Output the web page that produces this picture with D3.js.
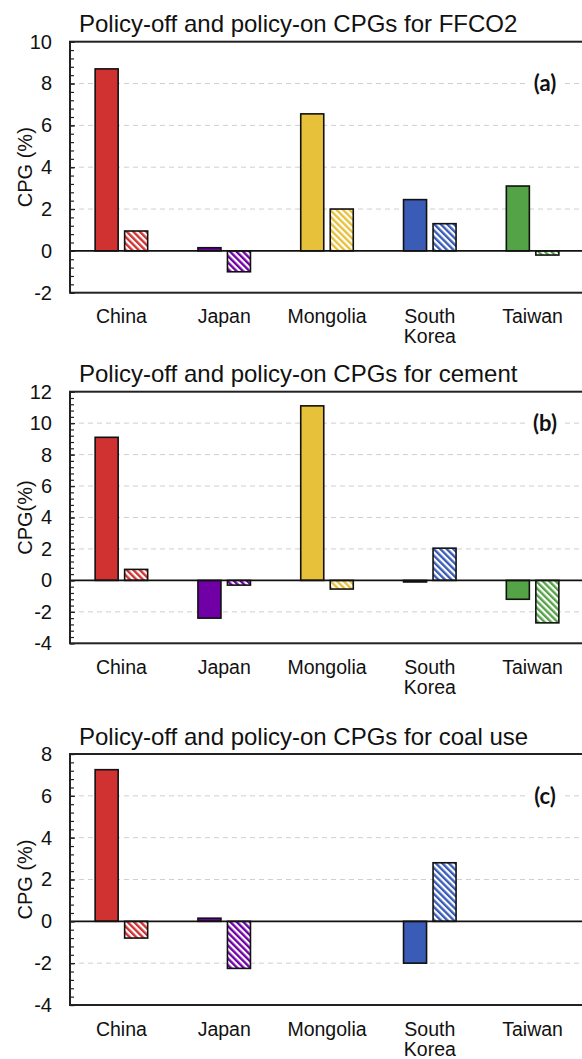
<!DOCTYPE html>
<html>
<head>
<meta charset="utf-8">
<script src="https://cdn.jsdelivr.net/npm/d3@7"></script>
<style>
  body { margin: 0; background: #fff; }
  svg text { font-family: "Liberation Sans", Arial, Helvetica, sans-serif; fill: #111; }
</style>
</head>
<body>
<svg id="chart" width="582" height="1059"></svg>
<script>
// ---- data ----
const categories = ["China", "Japan", "Mongolia", "South Korea", "Taiwan"];
const seriesKeys = ["off", "on"];

const ffco2Off  = [8.7, 0.15, 6.55, 2.45, 3.1];
const ffco2On   = [0.95, -1.0, 2.0, 1.3, -0.2];
const cementOff = [9.1, -2.4, 11.1, -0.1, -1.2];
const cementOn  = [0.7, -0.3, -0.55, 2.05, -2.7];
const coalOff   = [7.25, 0.15, null, -2.0, null];
const coalOn    = [-0.8, -2.25, null, 2.8, null];

const panelTitles = [
  "Policy-off and policy-on CPGs for FFCO2",
  "Policy-off and policy-on CPGs for cement",
  "Policy-off and policy-on CPGs for coal use"
];
const panelLetters = ["(a)", "(b)", "(c)"];
const yAxisTitles = ["CPG (%)", "CPG(%)", "CPG (%)"];

const ffco2Ticks  = [-2, 0, 2, 4, 6, 8, 10];
const cementTicks = [-4, -2, 0, 2, 4, 6, 8, 10, 12];
const coalTicks   = [-4, -2, 0, 2, 4, 6, 8];

// ---- styles ----
const countryColors = ["#d03131", "#7000a6", "#e8c13b", "#3a5cb6", "#54a346"];

// ---- layout of the three stacked panels ----
const frameLeft = 70, frameRight = 584;
const layout = [
  { top: 41.7,  bottom: 292.7, titleY: 32.3,  letterAt: 8,  minor: 0.4 },
  { top: 391.7, bottom: 643.3, titleY: 382.3, letterAt: 10, minor: 0.4 },
  { top: 754,   bottom: 1005,  titleY: 745,   letterAt: 6,  minor: 0.4 }
];

const panelData = [
  { off: ffco2Off,  on: ffco2On,  ticks: ffco2Ticks },
  { off: cementOff, on: cementOn, ticks: cementTicks },
  { off: coalOff,   on: coalOn,   ticks: coalTicks }
];

const svg = d3.select("#chart");
svg.append("rect").attr("width", 582).attr("height", 1059).attr("fill", "#fff");

// hatch fills, one per country colour ("\\" stripes on white)
const defs = svg.append("defs");
const hatchSize = 4.6;
countryColors.forEach((c, i) => {
  const p = defs.append("pattern")
    .attr("id", "hatch" + i)
    .attr("patternUnits", "userSpaceOnUse")
    .attr("width", hatchSize).attr("height", hatchSize)
    .attr("patternTransform", "rotate(-45)");
  p.append("rect").attr("width", hatchSize).attr("height", hatchSize).attr("fill", "#fff");
  p.append("line").attr("x1", 1.2).attr("y1", 0).attr("x2", 1.2).attr("y2", hatchSize)
    .attr("stroke", c).attr("stroke-width", 2.4);
});

const x0 = d3.scaleBand()
  .domain(categories)
  .range([frameLeft, frameRight])
  .paddingInner(0.489)
  .paddingOuter(0.2445);

const x1 = d3.scaleBand()
  .domain(seriesKeys)
  .range([0, x0.bandwidth()])
  .paddingInner(0.22);

panelData.forEach((pd, k) => {
  const L = layout[k];
  const ticks = pd.ticks;
  const y = d3.scaleLinear()
    .domain([d3.min(ticks), d3.max(ticks)])
    .range([L.bottom, L.top]);

  const g = svg.append("g");

  // title
  g.append("text")
    .attr("x", 79).attr("y", L.titleY)
    .style("font-size", "24px")
    .text(panelTitles[k]);

  // dashed gridlines (not at zero or frame edges)
  g.append("g").selectAll("line")
    .data(ticks.filter(t => t !== 0 && t !== d3.min(ticks) && t !== d3.max(ticks)))
    .join("line")
    .attr("x1", frameLeft).attr("x2", frameRight)
    .attr("y1", d => y(d)).attr("y2", d => y(d))
    .attr("stroke", "#cfcfcf").attr("stroke-width", 1)
    .attr("stroke-dasharray", "5,4");

  // panel letter with white backing
  const ly = y(L.letterAt);
  g.append("rect")
    .attr("x", 527).attr("y", ly - 12).attr("width", 36).attr("height", 24)
    .attr("fill", "#fff");
  g.append("text")
    .attr("x", 545).attr("y", ly).attr("dy", "0.36em")
    .attr("text-anchor", "middle")
    .style("font-family", "Lato, 'Open Sans', sans-serif")
    .style("font-weight", "bold")
    .style("font-size", "22px")
    .text(panelLetters[k]);

  // bars
  const rows = categories.map((c, i) => ({ cat: c, i, off: pd.off[i], on: pd.on[i] }));
  const grp = g.append("g").selectAll("g")
    .data(rows).join("g")
    .attr("transform", d => `translate(${x0(d.cat)},0)`);

  grp.selectAll("rect")
    .data(d => seriesKeys.map(key => ({ key, v: d[key], i: d.i })).filter(e => e.v !== null))
    .join("rect")
    .attr("x", e => x1(e.key))
    .attr("width", x1.bandwidth())
    .attr("y", e => y(Math.max(0, e.v)))
    .attr("height", e => Math.abs(y(e.v) - y(0)))
    .attr("fill", e => e.key === "off" ? countryColors[e.i] : `url(#hatch${e.i})`)
    .attr("stroke", "#111").attr("stroke-width", 1.6);

  // zero line
  g.append("line")
    .attr("x1", frameLeft).attr("x2", frameRight)
    .attr("y1", y(0)).attr("y2", y(0))
    .attr("stroke", "#111").attr("stroke-width", 1.6);

  // minor ticks (inside)
  const minorVals = d3.range(d3.min(ticks), d3.max(ticks) + 1e-9, L.minor);
  g.append("g")
    .attr("transform", `translate(${frameLeft},0)`)
    .call(d3.axisLeft(y).tickValues(minorVals).tickSize(-4).tickFormat(""))
    .call(a => a.select(".domain").remove())
    .call(a => a.selectAll("line").attr("stroke", "#222").attr("stroke-width", 1.2));

  // major ticks and labels
  g.append("g")
    .attr("transform", `translate(${frameLeft},0)`)
    .call(d3.axisLeft(y).tickValues(ticks).tickSize(-5).tickPadding(18).tickFormat(d => String(d)))
    .call(a => a.select(".domain").remove())
    .call(a => a.selectAll("line").attr("stroke", "#222").attr("stroke-width", 1.2))
    .call(a => a.selectAll("text")
      .attr("fill", "#111")
      .style("font-size", "20px")
      .style("font-family", "'Liberation Sans', Arial, sans-serif"));

  // frame
  g.append("rect")
    .attr("x", frameLeft).attr("y", L.top)
    .attr("width", frameRight - frameLeft).attr("height", L.bottom - L.top)
    .attr("fill", "none").attr("stroke", "#222").attr("stroke-width", 2);

  // category labels
  const xa = g.append("g")
    .attr("transform", `translate(0,${L.bottom})`)
    .call(d3.axisBottom(x0).tickSize(0).tickPadding(0))
    .call(a => a.select(".domain").remove());
  xa.selectAll("text")
    .attr("y", 30.6).attr("dy", null)
    .attr("fill", "#111")
    .style("font-size", "19.5px")
    .style("font-family", "'Liberation Sans', Arial, sans-serif")
    .each(function (d) {
      const words = d.split(" ");
      const t = d3.select(this).text(null);
      words.forEach((w, j) => {
        t.append("tspan").attr("x", 0).attr("dy", j === 0 ? 0 : 20).text(w);
      });
    });

  // y axis title
  g.append("text")
    .attr("transform", `translate(24.5,${(L.top + L.bottom) / 2}) rotate(-90)`)
    .attr("text-anchor", "middle")
    .attr("dy", "0.35em")
    .style("font-size", "20px")
    .text(yAxisTitles[k]);
});
</script>
</body>
</html>
